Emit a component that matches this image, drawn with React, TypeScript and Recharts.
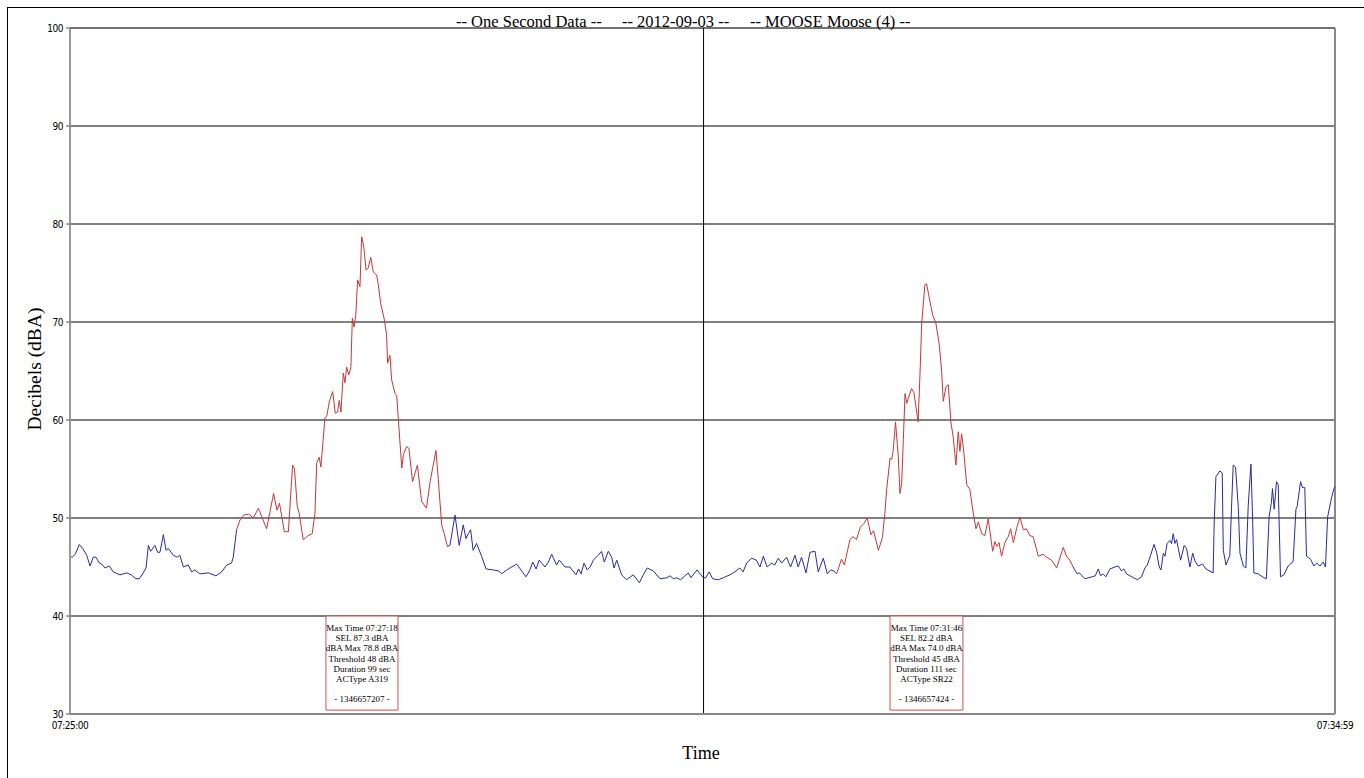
import {
  LineChart, Line, XAxis, YAxis, CartesianGrid, ReferenceLine, ReferenceArea, Label,
} from 'recharts'

// [seconds after 07:25:00, dBA]
const blueStart: [number, number][] = [
  [0, 46.1], [1, 46.0], [2.5, 46.3], [4.4, 47.3], [6, 46.9], [7.9, 46.2], [9.5, 45.1], [11, 46.0],
  [12.3, 46.0], [13.9, 45.4], [15, 45.3], [16.6, 44.9], [18.6, 45.1], [20.5, 44.5], [23.7, 44.2],
  [26.8, 44.4], [29, 44.2], [31.2, 43.8], [32.8, 43.8], [34.7, 44.4], [36, 44.9], [37.1, 47.2],
  [38.2, 46.6], [40.2, 47.2], [41.5, 46.5], [42.6, 46.5], [44.2, 48.3], [45.5, 46.7], [46.5, 46.9],
  [48.9, 46.2], [50.8, 46.0], [52, 46.2], [53.7, 45.0], [56, 45.2], [57.6, 44.5], [59, 44.7],
  [61.5, 44.3], [65.5, 44.4], [69.1, 44.1], [71.8, 44.5], [74.2, 45.2], [76.5, 45.4], [77.3, 46.0],
  [78.9, 48.8],
]

const eventA319: [number, number][] = [
  [78.9, 48.8], [80.5, 49.8], [82.4, 50.3], [84.6, 50.4], [86.8, 50.0], [89.2, 51.0], [93.1, 48.9],
  [96.4, 52.5], [98, 50.8], [99.2, 51.5], [101.5, 48.6], [103.4, 48.6], [105.4, 55.4], [106.3, 55.0],
  [107.6, 51.2], [108.5, 50.5], [110.4, 47.8], [112.8, 48.2], [114.7, 48.4], [116, 50.5],
  [116.8, 55.6], [118, 56.2], [118.8, 55.2], [120.7, 60.2], [121.6, 60.4], [122.8, 61.9],
  [124.4, 62.9], [125.6, 60.7], [126.7, 60.8], [127.5, 62.0], [128.3, 60.8], [129.4, 64.8],
  [130.2, 63.8], [131, 65.4], [132, 64.6], [133, 65.4], [133.7, 70.4], [134.5, 69.5], [135.3, 70.6],
  [136.2, 74.3], [137.3, 73.6], [138.1, 78.7], [139.1, 77.7], [140.2, 75.3], [141.2, 75.5],
  [142.4, 76.6], [143.6, 75.1], [145.2, 74.8], [146, 73.8], [147.1, 71.9], [148.7, 70.4],
  [149.9, 68.7], [150.4, 65.8], [151.5, 66.6], [152.3, 64.1], [153.9, 62.7], [154.7, 62.5],
  [155.5, 60.0], [157.1, 55.1], [157.9, 56.5], [159.4, 57.3], [160.5, 57.1], [162.2, 53.7],
  [164.5, 55.4], [166.5, 51.7], [168.8, 51.0], [170.5, 53.7], [172, 55.4], [173.3, 56.9],
  [174.4, 53.9], [176, 49.3], [177.2, 48.4], [178.7, 47.1],
]

const blueMiddle: [number, number][] = [
  [178.7, 47.1], [179.9, 47.2], [182.3, 50.3], [184.3, 47.2], [186.2, 49.3], [187.5, 47.9],
  [188.6, 48.4], [189.7, 48.8], [190.9, 46.7], [192.5, 47.4], [194.9, 46.1], [197, 44.8],
  [200.4, 44.7], [203, 44.6], [204.4, 44.3], [206.8, 44.7], [211.5, 45.3], [213.9, 44.6],
  [215.9, 44.0], [217.8, 44.7], [219.1, 45.5], [220.7, 44.8], [222.2, 45.7], [224.9, 45.0],
  [226.5, 45.5], [228.1, 46.3], [230.4, 45.2], [231.7, 45.7], [234.4, 45.0], [236.7, 45.0],
  [239.6, 44.2], [240.8, 44.8], [242, 44.3], [243.4, 45.4], [244.9, 44.7], [246.3, 45.0],
  [247.8, 45.7], [250.1, 46.2], [251.7, 46.6], [253, 45.5], [254.9, 46.6], [256.5, 46.0],
  [257.6, 44.9], [258.9, 45.7], [261.2, 44.2], [263.5, 43.7], [266.7, 44.2], [269.6, 43.4],
  [271.5, 44.2], [273.3, 44.9], [276.2, 44.6], [279.4, 43.8], [282.6, 43.9], [284.1, 44.1],
  [285.7, 43.8], [287.3, 43.9], [289.1, 43.7], [291.2, 44.1], [292.8, 44.4], [294, 43.9],
  [296.9, 44.7], [299.9, 43.9], [301, 43.9], [302.7, 44.5], [304.3, 43.8], [307, 43.7],
  [309.3, 43.9], [312.5, 44.2], [314.8, 44.5], [317.2, 44.9], [318.7, 44.5], [320.4, 45.4],
  [322.7, 45.9], [325, 45.7], [326.7, 45.0], [328.3, 46.1], [330.1, 45.0], [332.2, 45.4],
  [333.7, 45.2], [335.4, 45.9], [337, 45.4], [339.3, 46.0], [341.2, 45.0], [343.3, 46.2],
  [344.8, 45.0], [346.4, 46.0], [348.5, 44.4], [350.4, 46.5], [352.8, 46.6], [354.3, 44.5],
  [356.7, 45.9], [358.6, 44.3], [360.2, 44.7], [361.7, 44.6], [363, 44.3],
]

const eventSR22: [number, number][] = [
  [363, 44.3], [365.3, 45.8], [366.7, 45.2], [369.3, 47.8], [370.8, 48.1], [372.4, 47.8],
  [374.3, 49.1], [375.8, 49.4], [377.5, 50.0], [379.2, 48.3], [380.5, 48.7], [382.8, 46.7],
  [384.7, 48.0], [385.9, 50.6], [386.7, 52.9], [388.3, 56.1], [389.1, 56.0], [389.8, 56.9],
  [390.9, 59.8], [392.2, 56.3], [393, 52.5], [393.8, 53.5], [394.6, 58.0], [395.4, 62.7],
  [396.2, 61.7], [396.9, 62.2], [398.5, 63.2], [399.6, 62.8], [401.6, 59.8], [402.5, 64.8],
  [403.3, 69.9], [404.8, 73.8], [405.6, 73.9], [407.2, 72.1], [408.5, 70.7], [410, 69.9],
  [411.6, 67.7], [412.7, 65.1], [413.5, 61.9], [414.8, 63.4], [415.9, 63.6], [417.1, 59.8],
  [418.2, 58.3], [419.5, 55.4], [420.6, 58.8], [421.4, 56.8], [422.2, 58.6], [423.3, 56.6],
  [424.6, 53.4], [426.1, 52.9], [427.7, 50.5], [429, 48.9], [430.1, 49.6], [431.7, 48.4],
  [433.2, 48.2], [434.8, 49.9], [436.9, 46.6], [438, 47.6], [438.8, 47.1], [439.9, 47.5],
  [441.1, 46.1], [442.7, 47.5], [444.3, 48.1], [445.4, 48.9], [446.7, 47.5], [448.2, 48.9],
  [449.8, 50.1], [451.4, 48.8], [452.9, 48.9], [454.5, 48.2], [456.1, 48.1], [458.5, 46.1],
  [460.8, 46.3], [462.4, 46.0], [464.8, 45.7], [467.2, 44.9], [470.3, 47.0], [471.9, 46.1],
  [473.4, 45.7], [475, 45.0],
]

const blueEnd: [number, number][] = [
  [475, 45.0], [476.9, 44.3], [477.9, 44.4], [480.6, 43.8], [484, 44.0], [485.5, 44.1],
  [486.9, 44.8], [488, 44.1], [489.2, 44.3], [490.5, 44.0], [492.4, 44.8], [494.8, 45.0],
  [496.4, 45.1], [497.9, 44.6], [499, 44.8], [500.3, 44.3], [501.9, 44.1], [505.4, 43.7],
  [507.4, 44.0], [509, 44.9], [510.1, 45.2], [511.7, 46.2], [513.3, 47.3], [514.5, 46.5],
  [515.8, 45.0], [516.6, 44.7], [517.7, 46.4], [518.5, 46.1], [519.5, 47.4], [520.8, 47.7],
  [521.6, 47.4], [522.4, 48.4], [523.2, 47.4], [524, 47.8], [524.8, 46.9], [525.9, 45.7],
  [527.6, 47.2], [528.7, 46.9], [530.3, 45.0], [531.6, 46.4], [532.7, 45.6], [534.3, 45.1],
  [536.3, 45.3], [537.9, 44.8], [541.3, 44.4], [541.8, 49.5], [542.6, 54.2], [544.5, 54.8],
  [545.6, 54.6], [546.1, 46.7], [547.4, 45.2], [549.2, 46.2], [550, 51.1], [550.8, 55.4],
  [551.9, 55.2], [553.2, 51.1], [554, 46.4], [555.6, 45.1], [556.8, 44.9], [557.9, 51.2],
  [559.2, 55.5], [560, 49.8], [560.6, 44.4], [562.6, 44.3], [564.6, 44.0], [566.5, 43.8],
  [567.8, 50.1], [568.9, 51.6], [569.4, 53.0], [570.2, 50.9], [571.3, 53.7], [572.1, 53.4],
  [573.2, 44.0], [574.8, 44.2], [576.8, 45.1], [578, 45.3], [579.2, 45.6], [580.5, 50.9],
  [581.1, 51.2], [582.7, 53.7], [583.6, 53.1], [584.7, 53.1], [585.5, 46.1], [587.4, 45.8],
  [589, 45.1], [590.3, 45.4], [591.9, 45.1], [593.4, 45.5], [594.5, 45.0], [595.5, 50.1],
  [597.4, 52.1], [598.5, 53.0], [599, 53.2],
]

const yTicks = [30, 40, 50, 60, 70, 80, 90, 100]
const xTicks = [0, 599]
const xTickLabels = ['07:25:00', '07:34:59']

// event summary boxes, placed around the max time
const eventBoxes: { x1: number; x2: number; lines: string[] }[] = [
  {
    x1: 121.2, x2: 155.3,
    lines: ['Max Time 07:27:18', 'SEL 87.3 dBA', 'dBA Max 78.8 dBA', 'Threshold 48 dBA', 'Duration 99 sec', 'ACType A319', '', '- 1346657207 -'],
  },
  {
    x1: 388.3, x2: 422.8,
    lines: ['Max Time 07:31:46', 'SEL 82.2 dBA', 'dBA Max 74.0 dBA', 'Threshold 45 dBA', 'Duration 111 sec', 'ACType SR22', '', '- 1346657424 -'],
  },
]

const BLUE = '#2a2aa0'
const RED = '#c43838'
const SERIF = "'Liberation Serif', 'Times New Roman', serif"
const NARROW = "'Liberation Sans Narrow', 'DejaVu Sans Condensed', 'Liberation Sans', Arial, sans-serif"

const rows = (pts: [number, number][]) => pts.map(([t, db]) => ({ t, db }))

const boxText = (lines: string[]) => (props: any) => {
  const vb = props.viewBox || {}
  const cx = vb.x + vb.width / 2
  return (
    <text textAnchor="middle" fontFamily={SERIF} fontSize={9} fill="#000">
      {lines.map((l, i) => (
        <tspan key={i} x={cx} y={vb.y + 15 + i * 10.2}>{l}</tspan>
      ))}
    </text>
  )
}

export default function App() {
  const segments = [
    { key: 'b1', pts: blueStart, color: BLUE },
    { key: 'r1', pts: eventA319, color: RED },
    { key: 'b2', pts: blueMiddle, color: BLUE },
    { key: 'r2', pts: eventSR22, color: RED },
    { key: 'b3', pts: blueEnd, color: BLUE },
  ]

  return (
    <div style={{ position: 'absolute', left: 0, top: 0, width: 1364, height: 778, background: '#fff', overflow: 'hidden' }}>
      <div style={{ position: 'absolute', left: 7, top: 7, width: 1360, height: 790, border: '1px solid #000' }} />
      <LineChart
        width={1364}
        height={778}
        margin={{ top: 28, right: 29, bottom: 34, left: 0 }}
        style={{ position: 'absolute', left: 0, top: 0 }}
      >
        <CartesianGrid vertical={false} stroke="#000" strokeWidth={1} />
        <XAxis
          type="number"
          dataKey="t"
          domain={[0, 599]}
          ticks={xTicks}
          tickFormatter={(v: number) => xTickLabels[xTicks.indexOf(v)] ?? ''}
          tickLine={false}
          tickSize={0}
          tickMargin={8}
          height={30}
          axisLine={{ stroke: '#888', strokeWidth: 2 }}
          tick={{ fontSize: 10, fill: '#000', fontFamily: NARROW, letterSpacing: -0.5 }}
          interval={0}
          allowDataOverflow
        />
        <YAxis
          type="number"
          domain={[30, 100]}
          ticks={yTicks}
          width={70}
          tickSize={4}
          tickMargin={3}
          tickLine={{ stroke: '#555' }}
          axisLine={{ stroke: '#999', strokeWidth: 2 }}
          tick={{ fontSize: 10, fill: '#000', fontFamily: NARROW, letterSpacing: -0.5 }}
          interval={0}
        />
        <ReferenceLine y={100} stroke="#666" />
        <ReferenceLine x={599} stroke="#888" strokeWidth={2} />
        <ReferenceLine x={300} stroke="#000" />
        {eventBoxes.map((b, i) => (
          <ReferenceArea
            key={i}
            x1={b.x1}
            x2={b.x2}
            y1={30.4}
            y2={40}
            stroke="#d05050"
            strokeWidth={1}
            fill="#fff"
            fillOpacity={1}
          >
            <Label content={boxText(b.lines)} />
          </ReferenceArea>
        ))}
        {segments.map((s) => (
          <Line
            key={s.key}
            data={rows(s.pts)}
            dataKey="db"
            type="linear"
            stroke={s.color}
            strokeWidth={1}
            dot={false}
            activeDot={false}
            isAnimationActive={false}
          />
        ))}
      </LineChart>
      <div style={{ position: 'absolute', top: 12, left: 0, width: 1364, fontFamily: SERIF, fontSize: 16.5, color: '#000', lineHeight: '20px' }}>
        <span style={{ position: 'absolute', left: 456 }}>-- One Second Data --</span>
        <span style={{ position: 'absolute', left: 622 }}>-- 2012-09-03 --</span>
        <span style={{ position: 'absolute', left: 750 }}>-- MOOSE Moose (4) --</span>
      </div>
      <div
        style={{
          position: 'absolute', left: 35, top: 369, fontFamily: SERIF, fontSize: 19.5, color: '#000',
          transform: 'translate(-50%, -50%) rotate(-90deg)', whiteSpace: 'nowrap',
        }}
      >
        Decibels (dBA)
      </div>
      <div
        style={{
          position: 'absolute', left: 701, top: 753, fontFamily: SERIF, fontSize: 18, color: '#000',
          transform: 'translate(-50%, -50%)', whiteSpace: 'nowrap',
        }}
      >
        Time
      </div>
    </div>
  )
}
